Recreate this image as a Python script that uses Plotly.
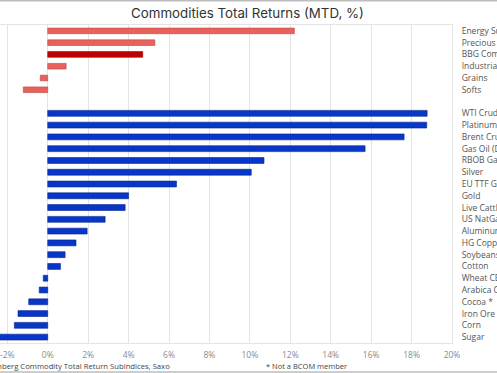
import plotly.graph_objects as go

group_labels = ["Energy Subindex", "Precious Metals", "BBG Commodity", "Industrial Metals", "Grains", "Softs"]
group_values = [12.2, 5.3, 4.7, 0.91, -0.37, -1.21]

single_labels = ["WTI Crude Oil", "Platinum *", "Brent Crude Oil", "Gas Oil (Diesel)", "RBOB Gasoline",
                 "Silver", "EU TTF Gas *", "Gold", "Live Cattle", "US NatGas", "Aluminum", "HG Copper",
                 "Soybeans", "Cotton", "Wheat CBOT", "Arabica Coffee", "Cocoa *", "Iron Ore (SGX) *",
                 "Corn", "Sugar"]
single_values = [18.77, 18.75, 17.63, 15.7, 10.7, 10.07, 6.37, 4.0, 3.83, 2.84, 1.95, 1.4,
                 0.86, 0.63, -0.22, -0.42, -0.94, -1.47, -1.65, -2.6]

x_ticks = list(range(-2, 21, 2))
x_tick_text = [f"{v}%" for v in x_ticks]

blank = " "
categories = group_labels + [blank] + single_labels

red = "#E8625B"
red_dark = "#C00000"
blue = "#0836C9"

group_colors = [red_dark if l == "BBG Commodity" else red for l in group_labels]
group_lines = ["#8f0000" if l == "BBG Commodity" else "#b74a44" for l in group_labels]

fig = go.Figure()
fig.add_trace(go.Bar(
    y=group_labels, x=group_values, orientation="h",
    marker=dict(color=group_colors, line=dict(color=group_lines, width=0.6)),
    width=0.48, showlegend=False,
))
fig.add_trace(go.Bar(
    y=single_labels, x=single_values, orientation="h",
    marker=dict(color=blue, line=dict(color="#05258f", width=0.6)),
    width=0.5, showlegend=False,
))

W, H = 497, 373
ml, mr, mt, mb = 0, 45, 25, 30
plot_w = W - ml - mr
plot_h = H - mt - mb

fig.update_layout(
    template="none",
    width=W, height=H,
    margin=dict(l=ml, r=mr, t=mt, b=mb, pad=0),
    paper_bgcolor="white", plot_bgcolor="white",
    font=dict(family="Open Sans, Noto Sans, sans-serif", size=9, color="#666"),
    title=dict(text="Commodities Total Returns (MTD, %)", x=247.5 / W, xanchor="center",
               xref="container", yref="container", y=1 - 13 / H, yanchor="middle",
               font=dict(family="Inter, Roboto, sans-serif", size=13.3, color="#333")),
    barmode="overlay",
    xaxis=dict(range=[-47.7 / 20.2, 20], tickvals=x_ticks, ticktext=x_tick_text,
               showgrid=True, gridcolor="#e4e4e4", gridwidth=1,
               zeroline=True, zerolinecolor="#e4e4e4", zerolinewidth=1,
               showline=True, linecolor="#e4e4e4", linewidth=1, mirror=True,
               ticks="", ticklabelstandoff=4, automargin=False, ticklabeloverflow="allow",
               tickfont=dict(size=8.5, color="#8a8a8a")),
    yaxis=dict(type="category", categoryorder="array", categoryarray=categories,
               range=[len(categories) - 0.5, -0.5], side="right",
               showgrid=False, zeroline=False, showline=True, linecolor="#e4e4e4",
               linewidth=1, mirror=True, ticks="", ticklabelstandoff=7, automargin=False,
               ticklabeloverflow="allow",
               tickvals=categories, ticktext=categories,
               tickfont=dict(size=8.5, color="#555")),
)

fig.add_annotation(text="Source: Bloomberg Commodity Total Return Subindices, Saxo",
                   xref="paper", yref="paper", x=172 / plot_w, y=-23 / plot_h,
                   xanchor="right", yanchor="middle", showarrow=False,
                   font=dict(size=7.7, color="#444"))
fig.add_annotation(text="* Not a BCOM member",
                   xref="paper", yref="paper", x=264 / plot_w, y=-23 / plot_h,
                   xanchor="left", yanchor="middle", showarrow=False,
                   font=dict(size=7.5, color="#444"))

for ypx in (0.75, 372):
    yp = (H - mb - ypx) / plot_h
    fig.add_shape(type="line", xref="paper", yref="paper", x0=-0.1, x1=1.2, y0=yp, y1=yp,
                  line=dict(color="#bdbdbd", width=1.5))

fig.write_html("out.html", config={"displayModeBar": False},
               post_script="document.body.style.margin='0';document.body.style.overflow='hidden';")
